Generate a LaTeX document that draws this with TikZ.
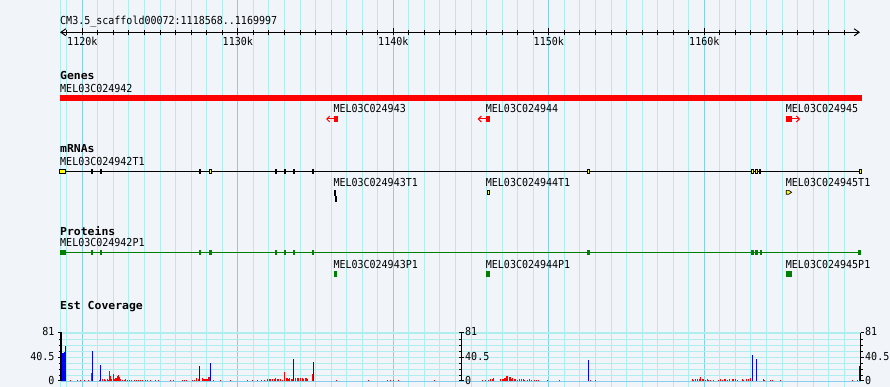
\documentclass[tikz,border=0pt]{standalone}
\usepackage{fontspec}
\setmonofont{DejaVu Sans Mono}
\newfontfamily\pixfont{DejaVu Sans Mono}[FakeStretch=0.91]
\newfontfamily\pixbold{DejaVu Sans Mono}[FakeStretch=1.04]
\usetikzlibrary{arrows.meta}
\definecolor{bg}{HTML}{F1F5FA}
\definecolor{gridminor}{HTML}{AFEEEE}
\definecolor{gridmajor}{HTML}{87CEEB}
\definecolor{genered}{HTML}{FF0000}
\definecolor{protgreen}{HTML}{008000}
\definecolor{mrnayellow}{HTML}{FFFF00}
\definecolor{covblue}{HTML}{0000FF}
\tikzset{
  lbl/.style={anchor=base west, inner sep=0pt, font=\fontsize{11}{13}\pixfont},
  head/.style={anchor=base west, inner sep=0pt, font=\fontsize{11}{13}\pixbold\bfseries},
  ticklbl/.style={anchor=base, inner sep=0pt, font=\fontsize{11}{13}\pixfont},
  minorline/.style={gridminor, line width=1pt},
  majorline/.style={gridmajor, line width=1pt},
  yellowbox/.style={fill=mrnayellow, draw=black, line width=0.7pt},
  barb/.tip={Straight Barb[length=3pt,width=6pt]},
  rulerbarb/.tip={Straight Barb[length=5pt,width=7pt]},
}
\begin{document}
\begin{tikzpicture}[x=1pt,y=-1pt]
\useasboundingbox (0,0) rectangle (890,387);
\fill[bg] (0,0) rectangle (890,387);
% vertical grid
\draw[minorline] (60.2,0) -- (60.2,387);
\foreach \k in {1119,...,1169}{
  \pgfmathsetmacro\xx{82.3+(\k-1120)*15.55}
  \draw[minorline] (\xx,0) -- (\xx,387);
}
\foreach \k in {1120,1130,...,1160}{
  \pgfmathsetmacro\xx{82.3+(\k-1120)*15.55}
  \draw[majorline] (\xx,0) -- (\xx,387);
}
% coverage horizontal grid
\foreach \yy in {339.3,345.3,351.3,357.3,363.3,369.3,375.3}{
  \draw[minorline] (60.7,\yy) -- (860.5,\yy);
}
\draw[gridminor, line width=2.6pt] (60.7,332.9) -- (860.5,332.9);
\draw[majorline] (60.7,381) -- (860.5,381);

% ruler
\node[lbl] (title) at (60,24.7) {CM3.5\_scaffold00072:1118568..1169997};
\coordinate (rulerL) at (60,32.3);
\coordinate (rulerR) at (860,32.3);
\draw[line width=1pt, rulerbarb-rulerbarb] (rulerL) -- (rulerR);
\foreach \k in {1119,...,1169}{
  \pgfmathsetmacro\xx{82.3+(\k-1120)*15.55}
  \draw[line width=1pt] (\xx,30) -- (\xx,34.7);
}
\foreach \k/\nm in {1120/a,1130/b,1140/c,1150/d,1160/e}{
  \pgfmathsetmacro\xx{82.3+(\k-1120)*15.55}
  \draw[line width=1pt] (\xx,28) -- (\xx,34.7);
  \node[ticklbl] (tick\nm) at (\xx,46) {\k k};
}

% Genes
\node[head] (genes) at (60,80) {Genes};
\node[lbl] (g942) at (60,92.3) {MEL03C024942};
\fill[genered] (60,95) rectangle (861.7,101);
\node[lbl] (g943) at (333.3,112.7) {MEL03C024943};
\fill[genered] (334,116) rectangle (338.3,122);
\draw[genered, line width=1pt, -barb] (334,119) -- (326,119);
\node[lbl] (g944) at (485.7,112.7) {MEL03C024944};
\fill[genered] (485.7,116) rectangle (490,122);
\draw[genered, line width=1pt, -barb] (485.7,119) -- (477.7,119);
\node[lbl] (g945) at (785.7,112.7) {MEL03C024945};
\fill[genered] (785.7,116) rectangle (791.7,122);
\draw[genered, line width=1pt, -barb] (791.7,119) -- (800,119);

% mRNAs
\node[head] (mrnas) at (60,152.3) {mRNAs};
\node[lbl] (t942) at (60,165.7) {MEL03C024942T1};
\draw[line width=1pt] (60,171.3) -- (861.5,171.3);
\foreach \a/\b in {91/92.7,100/101.7,199.3/201,275.3/277,284.3/286,293.3/295,312.3/314,759.3/761.3}{
  \fill[black] (\a,169) rectangle (\b,174);
}
\draw[yellowbox] (59.8,168.9) rectangle (65.5,173.6);
\foreach \a/\b in {209.5/211.5,587.8/589.8,751.5/753.5,755.5/757.5,859.2/861.6}{
  \draw[yellowbox] (\a,169.4) rectangle (\b,173.4);
}
\node[lbl] (t943) at (333.3,187) {MEL03C024943T1};
\fill[black] (334.4,190) rectangle (336,196.5);
\fill[black] (335.2,196.5) rectangle (336.8,202);
\node[lbl] (t944) at (485.7,187) {MEL03C024944T1};
\draw[yellowbox] (487.2,190.4) rectangle (489.4,194.2);
\node[lbl] (t945) at (785.7,187) {MEL03C024945T1};
\draw[yellowbox] (786.3,190.4) -- (788.8,190.4) -- (791.6,192.3) -- (788.8,194.2) -- (786.3,194.2) -- cycle;

% Proteins
\node[head] (proteins) at (60,235) {Proteins};
\node[lbl] (p942) at (60,246.7) {MEL03C024942P1};
\draw[protgreen, line width=1.3pt] (60,252.3) -- (861,252.3);
\fill[protgreen] (60,249.7) rectangle (65.7,255.3);
\foreach \a/\b in {91/92.7,100/101.7,199.3/201.3,209.3/212,275.3/277,284.3/286,293.3/295,312.3/314,587.3/590,751.3/753.7,755.3/757.7,760/761.7,858.3/860.7}{
  \fill[protgreen] (\a,250) rectangle (\b,255.3);
}
\node[lbl] (p943) at (333.3,268.3) {MEL03C024943P1};
\fill[protgreen] (334,271) rectangle (336.7,276.7);
\node[lbl] (p944) at (485.7,268.3) {MEL03C024944P1};
\fill[protgreen] (485.7,271) rectangle (489.7,276.7);
\node[lbl] (p945) at (785.7,268.3) {MEL03C024945P1};
\fill[protgreen] (785.7,271) rectangle (791.7,276.7);

% Est coverage
\node[head] (est) at (60,309) {Est Coverage};
% red bars x/height
\foreach \x/\h in {70/1,76.7/1,80/1,84.3/1,88.3/1,91/8,
  98.5/1,102/1.5,103.5/2,105/1,106.5/1.5,108/1,
  109.3/9.5,110.3/4.5,111.3/1.5,112.7/6.5,114/2,115/3,116/3,117/4.5,118/5.5,119/4,120.3/1.5,
  122/1,123.5/1,125/1.5,127/1,129/1,131/1,134/1,136/1,137.5/1,140/1,142/1,145/1,147/1,150/1,155/1,158/1,170/1,173/1,
  182/1,184/1,186/1,192/1,194/1,196.3/3,198/1.5,201.7/3,202.7/1.5,204/2,205/2,206/2,207/2,208.3/3.5,209.3/3.5,
  213/1,220/1,230/1,247/1,252/1,257/1,261/1,264/1,267/1.5,268.5/1.5,270/2,272/1.5,273.5/2,275/3,276.5/2,278.3/2,280/2,282/1,
  284/8.8,285.5/2.5,287/3,288.3/2,289.3/3,290.5/2,291.5/1.5,295/3,296.5/3,298/2.5,
  300/2.5,301.5/3,303/2,304.5/2.5,306/3,307.3/2,312/6.5,336/1,368.3/1,387.3/1,390/1,393.3/1,398.3/1,434.3/1,
  481.7/1,485/1,488/1,490/1.5,491.7/2,492.7/3,500/1.5,501.5/2,503/1.5,504/3,505.3/3,506.3/5,507.3/5,508.5/4,509.5/3.5,
  511/2,512/3,513.5/1.5,515/1.5,517/1,519/1.5,521/1.5,522.5/1.5,524/1,527/1,529/1.5,531/1,534/1,536/1,538/1,546.7/1,559.3/1,590/1,595/1,
  691.7/1.5,693/1,695/1.5,697/2,698.5/1.5,700/3.5,701.5/1.5,703.3/1.5,705/1,706.5/1.5,708/1,710/1,713.3/1,718.3/1,720/1.5,
  722/1,723.5/1.5,725/1.5,727/1,729/1.5,731.7/2,733/2,735/1.5,736.7/1,741.7/1.5,743/1,746/1.5,748/1.5,750.3/3,762.7/2,764/1,
  770/1,772/1,780/1,851.7/1,856.7/1}{
  \fill[genered] (\x,380.6) rectangle ++(1,-\h);
}
% blue bars x/width/top
\foreach \x/\w/\t in {60.7/1.6/332.7,62.3/1.4/353.3,63.7/1/351.7,64.7/1/346,92/1/351,100/1/365,199/1/366,210/1/362.7,
  293/1/359,312.7/1/361.7,588.3/1/360,751.7/1/355,756/1/359,859/1/366}{
  \fill[covblue] (\x,380.6) rectangle (\x+\w,\t);
}
% left axis
\draw[line width=1.6pt] (60.8,332.7) -- (60.8,380.6);
\foreach \yy in {339.3,345.3,351.3,363.3,369.3,375.3}{
  \draw[line width=1pt] (58.5,\yy) -- (60.8,\yy);
}
\foreach \yy in {332.9,357.3,380.3}{
  \draw[line width=1pt] (58,\yy) -- (61.5,\yy);
}
\node[lbl, anchor=base east] (la81) at (54.6,335.7) {81};
\node[lbl, anchor=base east] (la40) at (54.6,360) {40.5};
\node[lbl, anchor=base east] (la0) at (54.6,384.3) {0};
% middle axis
\draw[line width=1pt] (461.2,332.7) -- (461.2,380.6);
\foreach \yy in {339.3,345.3,351.3,363.3,369.3,375.3}{
  \draw[line width=1pt] (459.2,\yy) -- (461.2,\yy);
}
\foreach \yy in {332.9,357.3,380.3}{
  \draw[line width=1pt] (459.2,\yy) -- (463.5,\yy);
}
\node[lbl] (ma81) at (465,335.7) {81};
\node[lbl] (ma40) at (465,360) {40.5};
\node[lbl] (ma0) at (465,384.3) {0};
% right axis
\draw[line width=1pt] (860.5,332.7) -- (860.5,380.6);
\foreach \yy in {339.3,345.3,351.3,363.3,369.3,375.3}{
  \draw[line width=1pt] (860.5,\yy) -- (863,\yy);
}
\foreach \yy in {332.9,357.3,380.3}{
  \draw[line width=1pt] (860.5,\yy) -- (864,\yy);
}
\node[lbl] (ra81) at (865,335.7) {81};
\node[lbl] (ra40) at (865,360) {40.5};
\node[lbl] (ra0) at (865,384.3) {0};
\end{tikzpicture}
\end{document}
